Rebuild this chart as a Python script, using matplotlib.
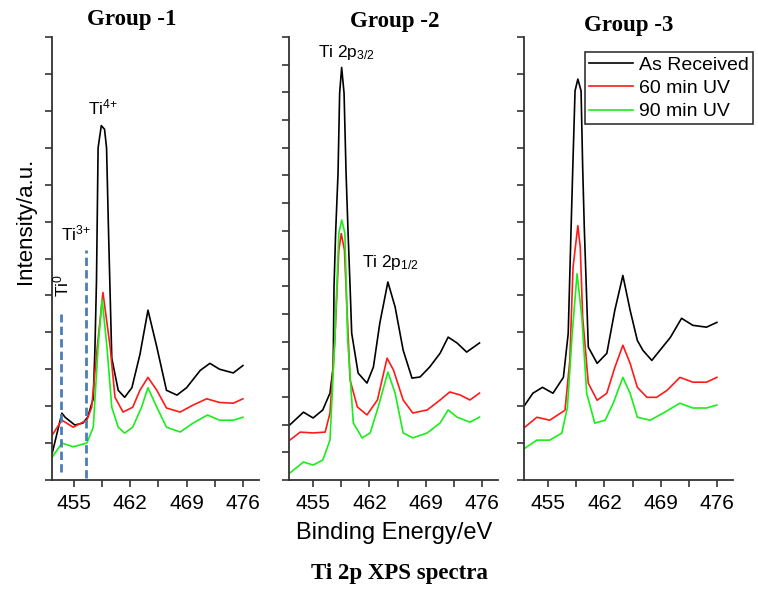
import numpy as np
import matplotlib.pyplot as plt

plt.rcParams['font.family'] = ['Liberation Sans', 'DejaVu Sans']
plt.rcParams['mathtext.fontset'] = 'custom'
plt.rcParams['mathtext.rm'] = 'Liberation Sans'
plt.rcParams['mathtext.it'] = 'Liberation Sans:italic'

# ---- data (binding energy eV, intensity a.u.) ----
titles = ['Group -1', 'Group -2', 'Group -3']
series_names = ['As Received', '60 min UV', '90 min UV']
series_colors = ['black', '#ff1a1a', '#1aee1a']
xticks = [455, 462, 469, 476]
xminor = [458.5, 465.5, 472.5]
ymax = [12, 16, 12]

# Group 1
g1_black_x = [452.3, 453.5, 453.9, 455.1, 456.1, 456.7, 457.4, 457.6, 457.8, 458.0, 458.4, 458.8, 459.05,
              459.3, 459.5, 459.7, 460.5, 461.3, 462.2, 463.2, 464.2, 465.3, 466.5, 467.8, 469.0, 470.7,
              471.9, 473.1, 474.8, 476.0]
g1_black_y = [0.73, 1.81, 1.70, 1.49, 1.54, 1.70, 2.2, 3.5, 5.4, 9.0, 9.6, 9.5, 9.0,
              6.7, 5.0, 3.3, 2.43, 2.24, 2.5, 3.4, 4.6, 3.6, 2.43, 2.3, 2.5, 2.97,
              3.16, 3.0, 2.9, 3.1]
g1_red_x = [452.3, 453.5, 454.9, 456.6, 457.2, 457.9, 458.6, 459.5, 460.1, 461.1, 462.3, 463.2, 464.2,
            465.3, 466.5, 468.2, 469.8, 471.5, 473.1, 474.8, 476.0]
g1_red_y = [1.22, 1.62, 1.43, 1.62, 1.97, 3.6, 5.08, 3.6, 2.24, 1.84, 1.97, 2.43, 2.78,
            2.43, 1.95, 1.84, 2.03, 2.2, 2.1, 2.08, 2.2]
g1_green_x = [452.3, 453.5, 454.9, 456.6, 457.4, 458.0, 458.5, 459.1, 459.7, 460.5, 461.3, 462.3, 463.4,
              464.2, 465.3, 466.5, 468.2, 469.8, 471.6, 473.1, 474.8, 476.0]
g1_green_y = [0.62, 1.0, 0.9, 1.0, 1.43, 3.6, 4.9, 3.6, 1.97, 1.43, 1.27, 1.43, 1.97,
              2.5, 1.97, 1.43, 1.3, 1.54, 1.76, 1.62, 1.62, 1.70]

# Group 2
g2_black_x = [452.1, 453.8, 455.0, 456.2, 457.1, 457.5, 457.6, 457.8, 458.1, 458.3, 458.55, 458.85, 459.1,
              459.35, 459.6, 459.8, 460.6, 461.7, 462.5, 463.3, 464.3, 465.2, 466.2, 467.3, 468.3,
              469.5, 470.8, 471.8, 472.9, 474.1, 475.7]
g2_black_y = [1.99, 2.45, 2.24, 2.53, 3.14, 4.08, 6.97, 8.92, 11.08, 13.97, 14.9, 13.97, 11.08,
              8.92, 6.97, 5.3, 3.86, 3.5, 4.08, 5.67, 7.15, 6.25, 4.69, 3.68, 3.72,
              4.08, 4.58, 5.16, 4.95, 4.62, 4.95]
g2_red_x = [452.1, 453.4, 455.0, 456.5, 457.1, 457.7, 458.2, 458.5, 458.9, 459.2, 459.6, 460.5, 461.7,
            463.0, 464.2, 465.0, 466.2, 467.4, 469.2, 470.8, 472.0, 473.3, 474.5, 475.7]
g2_red_y = [1.44, 1.73, 1.70, 1.73, 2.42, 5.05, 8.3, 8.9, 8.3, 6.25, 3.61, 2.64, 2.35,
            2.89, 4.4, 3.97, 2.89, 2.42, 2.53, 2.89, 3.18, 3.07, 2.89, 3.14]
g2_green_x = [452.1, 453.8, 455.0, 456.2, 457.1, 457.7, 458.2, 458.56, 458.95, 459.3, 460.0, 461.1, 462.1,
              463.1, 464.3, 465.2, 466.2, 467.4, 469.2, 470.8, 471.8, 472.9, 474.5, 475.7]
g2_green_y = [0.25, 0.65, 0.54, 0.72, 1.44, 5.05, 8.92, 9.39, 8.92, 5.05, 2.06, 1.52, 1.70,
              2.64, 3.9, 3.14, 1.70, 1.52, 1.70, 2.06, 2.53, 2.27, 2.09, 2.27]

# Group 3
g3_black_x = [452.1, 453.1, 454.3, 455.6, 456.9, 457.5, 457.86, 458.07, 458.35, 458.7, 459.1, 459.3,
              459.5, 460.0, 461.1, 462.3, 463.3, 464.3, 465.2, 466.1, 466.8, 467.9, 468.9, 470.2,
              471.6, 473.0, 474.7, 476.0]
g3_black_y = [2.03, 2.35, 2.51, 2.35, 2.78, 3.97, 6.84, 8.46, 10.54, 10.86, 10.54, 8.46,
              6.84, 3.6, 3.16, 3.43, 4.6, 5.54, 4.6, 3.78, 3.51, 3.24, 3.51, 3.86,
              4.38, 4.19, 4.14, 4.27]
g3_red_x = [452.1, 453.6, 455.2, 457.1, 457.7, 458.1, 458.7, 459.0, 459.3, 460.0, 461.1, 462.3, 463.3,
            464.3, 465.2, 466.1, 467.3, 468.5, 469.8, 471.4, 473.0, 474.7, 476.0]
g3_red_y = [1.43, 1.70, 1.62, 1.89, 3.24, 5.76, 6.89, 6.3, 4.4, 2.62, 2.16, 2.35, 3.05,
            3.65, 3.16, 2.51, 2.24, 2.24, 2.43, 2.78, 2.65, 2.65, 2.78]
g3_green_x = [452.1, 453.6, 455.2, 456.7, 457.4, 458.0, 458.6, 459.2, 459.8, 460.8, 462.1, 463.1, 464.3,
              465.2, 466.1, 467.7, 469.3, 471.4, 473.0, 474.7, 476.0]
g3_green_y = [0.86, 1.08, 1.08, 1.27, 1.97, 3.97, 5.59, 4.4, 2.35, 1.54, 1.62, 2.08, 2.78,
              2.35, 1.70, 1.62, 1.81, 2.08, 1.95, 1.95, 2.03]

panels = [
    [(g1_black_x, g1_black_y), (g1_red_x, g1_red_y), (g1_green_x, g1_green_y)],
    [(g2_black_x, g2_black_y), (g2_red_x, g2_red_y), (g2_green_x, g2_green_y)],
    [(g3_black_x, g3_black_y), (g3_red_x, g3_red_y), (g3_green_x, g3_green_y)],
]

W, H = 758, 592
fig = plt.figure(figsize=(W / 100, H / 100), dpi=100)

# axes rectangles in pixels: left, right; shared top and bottom
boxes = [(52, 259), (289, 498), (524, 733)]
xleft = [452.27, 452.0, 452.0]
top_px, bot_px = 37, 480

axes = []
for i, (l, r) in enumerate(boxes):
    ax = fig.add_axes([l / W, 1 - bot_px / H, (r - l) / W, (bot_px - top_px) / H])
    for (x, y), c, name in zip(panels[i], series_colors, series_names):
        ax.plot(x, y, color=c, lw=1.2, label=name)
    ax.set_xlim(xleft[i], 478.0)
    ax.set_ylim(0, ymax[i])
    ax.set_xticks(xticks)
    ax.set_xticks(xminor, minor=True)
    ax.set_yticks(np.arange(0, ymax[i] + 1))
    ax.tick_params(axis='y', labelleft=False, direction='out', length=5, width=1.2, color='#333333')
    ax.tick_params(axis='x', which='both', direction='out', length=5, width=1.2, color='#333333',
                   labelsize=15, pad=5)
    for s in ['top', 'right']:
        ax.spines[s].set_visible(False)
    for s in ['left', 'bottom']:
        ax.spines[s].set_linewidth(1.3)
        ax.spines[s].set_color('#333333')
    axes.append(ax)

# group titles
title_pos = [(132, 20), (395, 22), (629, 25)]
for t, (px, py) in zip(titles, title_pos):
    fig.text(px / W, 1 - py / H, t, ha='center', va='center', fontsize=16.5,
             fontweight='bold', family='Liberation Serif')

ax1, ax2, ax3 = axes
# annotations, group 1
ax1.text(458.6, 10.08, 'Ti$^{\\mathrm{4{+}}}$', ha='center', va='center', fontsize=12.5)
ax1.text(455.3, 6.68, 'Ti$^{\\mathrm{3{+}}}$', ha='center', va='center', fontsize=12.5)
ax1.text(453.4, 5.27, 'Ti$^{\\mathrm{0}}$', ha='center', va='center', fontsize=12.5, rotation=90)
ax1.plot([453.4, 453.4], [0.22, 4.5], ls=(0, (3, 1.5)), color='#4a7ebb', lw=2)
ax1.plot([456.5, 456.5], [0.05, 6.24], ls=(0, (3, 1.5)), color='#4a7ebb', lw=2)

# annotations, group 2
ax2.text(459.1, 15.45, 'Ti 2p$_{\\mathrm{3/2}}$', ha='center', va='center', fontsize=12.5)
ax2.text(464.6, 7.87, 'Ti 2p$_{\\mathrm{1/2}}$', ha='center', va='center', fontsize=12.5)

# legend in group 3
leg = ax3.legend(loc='upper right', bbox_to_anchor=(753 / W, 1 - 52 / H), bbox_transform=fig.transFigure,
                 fontsize=14, frameon=True, fancybox=False, edgecolor='#333333', framealpha=1,
                 handlelength=2.3, handletextpad=0.3, borderpad=0.2, labelspacing=0.3,
                 borderaxespad=0)
leg.get_frame().set_linewidth(1.2)

fig.text(25 / W, 1 - 221 / H, 'Intensity/a.u.', rotation=90, ha='center', va='center', fontsize=16)
fig.text(394 / W, 1 - 533 / H, 'Binding Energy/eV', ha='center', va='center', fontsize=17)
fig.text(399 / W, 1 - 573 / H, 'Ti 2p XPS spectra', ha='center', va='center', fontsize=16.5,
         fontweight='bold', family='Liberation Serif')

fig.savefig('out.png', dpi=100)
